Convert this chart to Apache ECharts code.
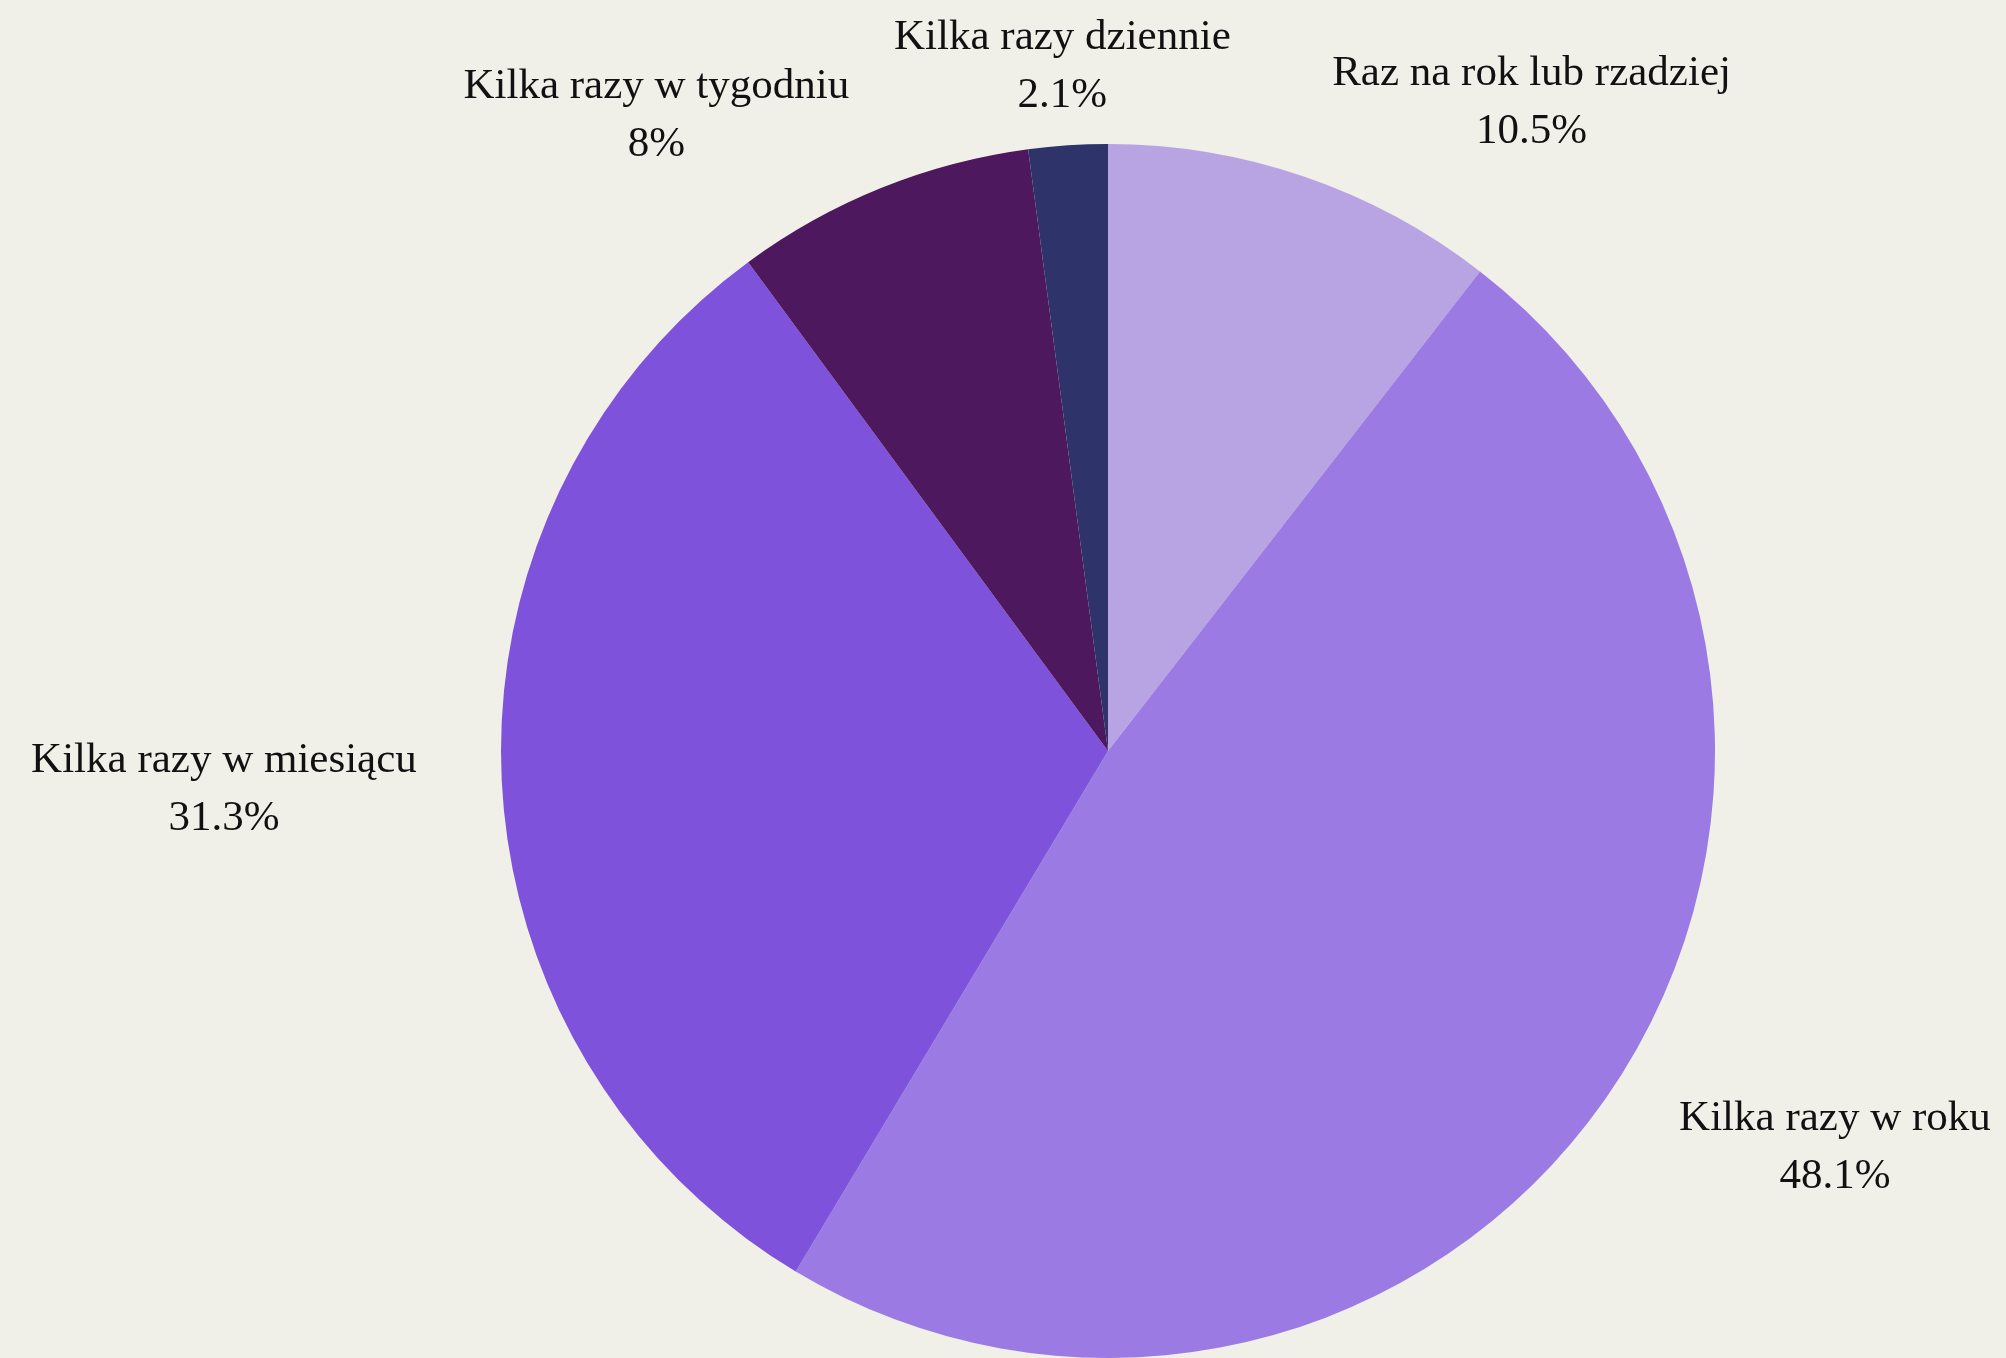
<!DOCTYPE html>
<html>
<head>
<meta charset="utf-8">
<style>
  html, body { margin: 0; padding: 0; background: #f0efe8; }
  #chart { width: 2006px; height: 1358px; }
</style>
<script src="https://cdn.jsdelivr.net/npm/echarts@6/dist/echarts.min.js"></script>
</head>
<body>
<div id="chart"></div>
<script>
// Jak często – udział odpowiedzi (%)
const categories = [
  'Raz na rok lub rzadziej',
  'Kilka razy w roku',
  'Kilka razy w miesiącu',
  'Kilka razy w tygodniu',
  'Kilka razy dziennie'
];
const values = [10.5, 48.1, 31.3, 8, 2.1];
const colors = ['#b8a4e3', '#9b7ae4', '#7f52db', '#4e185f', '#2e3469'];

const chart = echarts.init(document.getElementById('chart'), null, { renderer: 'canvas' });

chart.setOption({
  backgroundColor: '#f0efe8',
  animation: false,
  series: [{
    type: 'pie',
    center: [1108, 751],
    radius: 607,
    startAngle: 90,
    clockwise: true,
    avoidLabelOverlap: false,
    data: categories.map((name, i) => ({
      name: name,
      value: values[i],
      itemStyle: { color: colors[i] }
    })),
    itemStyle: { borderWidth: 0 },
    label: {
      show: true,
      position: 'outside',
      formatter: '{b}\n{c}%',
      fontFamily: '"Liberation Serif", "DejaVu Serif", serif',
      fontSize: 43,
      lineHeight: 58,
      color: '#111111',
      distanceToLabelLine: 0
    },
    labelLine: { show: false, length: 85, length2: 0 },
    // Each label block keeps its outside position but its lines are centred;
    // labels of slices pointing nearly straight up sit centred over the slice.
    labelLayout: function (params) {
      const p = params.labelLinePoints;
      const r = params.labelRect;
      let cx = r.x + r.width / 2;
      if (p) {
        const dx = p[1][0] - p[0][0];
        const dy = p[1][1] - p[0][1];
        const len = Math.sqrt(dx * dx + dy * dy) || 1;
        if (Math.abs(dx) / len < 0.2) cx = p[2][0];
      }
      return { x: cx, dy: 6, align: 'center', hideOverlap: false };
    },
    emphasis: { disabled: true }
  }]
});
</script>
</body>
</html>
